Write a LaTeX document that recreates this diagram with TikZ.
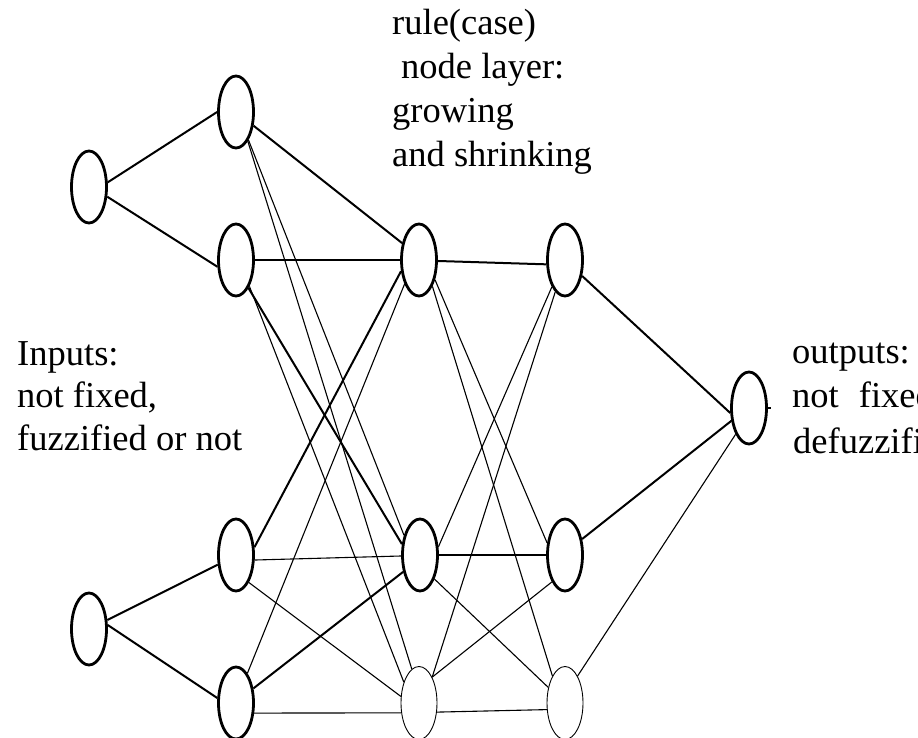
\documentclass[tikz,border=0pt]{standalone}
\usepackage{fontspec}
\setmainfont{Liberation Serif}
\usetikzlibrary{shapes.geometric}
\begin{document}
\begin{tikzpicture}[x=1pt,y=-1pt,
  neuron/.style={ellipse,draw,line width=2.8pt,minimum width=35pt,minimum height=72pt,inner sep=0pt},
  newneuron/.style={ellipse,draw,line width=0.9pt,minimum width=36pt,minimum height=73pt,inner sep=0pt},
  strong/.style={line width=2pt},
  weak/.style={line width=1.1pt},
  txt/.style={anchor=base west,inner sep=0pt,font=\fontsize{36.5}{44}\selectfont}]
\useasboundingbox (0,0) rectangle (918,738);
\clip (0,0) rectangle (918,738);

% input nodes
\node[neuron] (I1) at (89,187) {};
\node[neuron] (I2) at (89,629) {};
% fuzzification layer
\node[neuron] (A1) at (236,112) {};
\node[neuron] (A2) at (236,260) {};
\node[neuron] (A3) at (236,555) {};
\node[neuron] (A4) at (236,703) {};
% rule (case) layer
\node[neuron] (B1) at (419,260) {};
\node[neuron] (B2) at (420,555) {};
\node[newneuron] (B3) at (419,703) {};
% consequent layer
\node[neuron] (C1) at (565,260) {};
\node[neuron] (C2) at (565,555) {};
\node[newneuron] (C3) at (565,703) {};
% output node
\node[neuron] (O) at (749,408) {};

% inputs to membership nodes
\draw[strong] (I1.14) -- (A1.180);
\draw[strong] (I1.-28) -- (A2.-160);
\draw[strong] (I2.26) -- (A3.-152);
\draw[strong] (I2.12) -- (A4.165);

% membership nodes to rule nodes
\draw[strong] (A1.-38) -- (B1.135);
\draw[weak]   (A2.0) -- (B1.180);
\draw[strong] (A3.23) -- (B1.-148);
\draw[weak]   (A4.69) -- (B1.-121);
\draw[weak]   (A1.-66) -- (B2.129);
\draw[strong] (A2.-66) -- (B2.149);
\draw[weak]   (A3.-15) -- (B2.-177);
\draw[strong] (A4.40) -- (B2.-135);
\draw[weak]   (A1.-68) -- (B3.102);
\draw[weak]   (A2.-63) -- (B3.126);
\draw[weak]   (A3.-65) -- (B3.160);
\draw[weak]   (A4.-29) -- (B3.-151);

% rule nodes to consequent nodes
\draw[strong] (B1.-3) -- (C1.-167);
\draw[weak]   (B1.-51) -- (C2.146);
\draw[weak]   (B1.-63) -- (C3.115);
\draw[weak]   (C1.-116) -- (B2.24);
\draw[strong] (B2.0) -- (C2.180);
\draw[weak]   (B2.-59) -- (C3.137);
\draw[weak]   (C1.-107) -- (B3.63);
\draw[weak]   (C2.-116) -- (B3.63);
\draw[weak]   (B3.-27) -- (C3.-160);

% consequent nodes to output
\draw[strong] (C1.-43) -- (O.-165);
\draw[strong] (C2.43) -- (O.-144);
\draw[weak]   (C3.65) -- (O.-117);
\draw[weak]   (O.east) -- ++(3,0);

% annotations
\node[txt] (rl1) at (392,35) {rule(case)};
\node[txt] (rl2) at (401,79) {node layer:};
\node[txt] (rl3) at (392,123) {growing};
\node[txt] (rl4) at (392,167) {and shrinking};

\node[txt] (in1) at (17,365) {Inputs:};
\node[txt] (in2) at (17,407) {not fixed,};
\node[txt] (in3) at (17,450) {fuzzified or not};

\node[txt] (out1) at (792,363) {outputs:};
\node[txt] (out2) at (792,407) {not\hspace{0.55em}fixed,};
\node[txt] (out3) at (793,453) {defuzzified};
\end{tikzpicture}
\end{document}
